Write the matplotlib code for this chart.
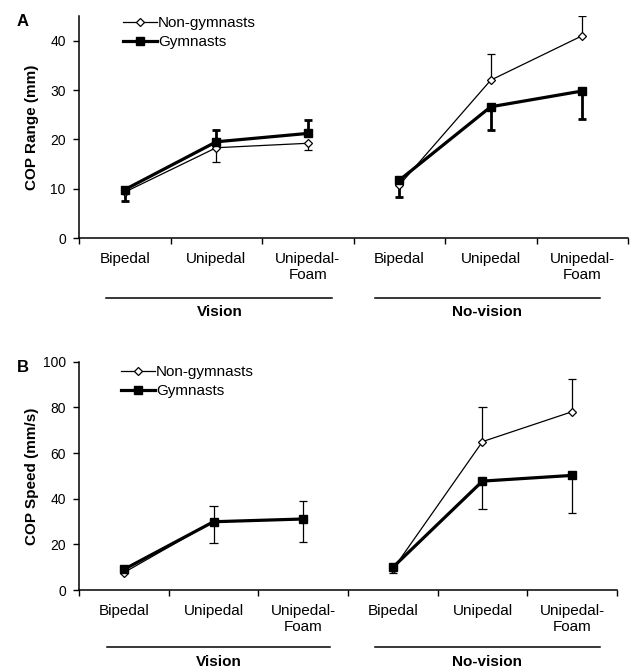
import numpy as np
import matplotlib.pyplot as plt
from matplotlib.lines import Line2D

plt.rcParams['font.family'] = ['Liberation Sans', 'DejaVu Sans']

# categories
conditions = ["Bipedal", "Unipedal", "Unipedal-\nFoam",
              "Bipedal", "Unipedal", "Unipedal-\nFoam"]
groups = ["Vision", "No-vision"]

# Panel A - COP range (mm)
range_non = [9.3, 18.3, 19.2, 10.7, 32.0, 41.0]
range_non_up = [0, 0, 0, 0, 5.2, 3.9]
range_non_lo = [0, 2.8, 1.4, 0, 0, 0]
range_gym = [9.8, 19.5, 21.2, 11.7, 26.6, 29.8]
range_gym_up = [0, 2.4, 2.8, 0, 0, 0]
range_gym_lo = [2.2, 0, 0, 3.3, 4.7, 5.7]

# Panel B - COP speed (mm/s)
speed_non = [7.6, 30.0, 31.0, 9.0, 65.0, 78.1]
speed_non_up = [0, 6.9, 8.0, 0, 15.3, 14.2]
speed_non_lo = [0, 0, 0, 0, 0, 0]
speed_gym = [9.0, 29.9, 31.1, 9.9, 47.7, 50.2]
speed_gym_up = [0, 0, 0, 0, 0, 0]
speed_gym_lo = [0, 9.5, 9.9, 2.6, 12.4, 16.6]

W, H = 631, 669
fig = plt.figure(figsize=(W / 100, H / 100), dpi=100)


def err_bars(ax, x, y, up, lo, lw, cap=0.045):
    y = np.array(y, float)
    for xi, yi, u, l in zip(x, y, up, lo):
        for e in (u, -l):
            if e != 0:
                ax.vlines(xi, yi, yi + e, color='black', lw=lw, zorder=2)
                ax.hlines(yi + e, xi - cap, xi + cap, color='black', lw=lw, zorder=2)


def panel(box, letter, ylabel, ymax, yticks, non, non_up, non_lo, gym, gym_up, gym_lo,
          gym_err_lw, spans, line_px, text_px, leg_anchor):
    l, r, t, b = box
    ax = fig.add_axes([l / W, 1 - b / H, (r - l) / W, (b - t) / H])
    h_px = b - t
    x = np.arange(len(conditions))
    non = np.array(non)
    gym = np.array(gym)

    err_bars(ax, x, non, non_up, non_lo, 0.9)
    err_bars(ax, x, gym, gym_up, gym_lo, gym_err_lw)
    # each vision condition is its own line (3 conditions per group)
    for g in range(len(groups)):
        sl = slice(3 * g, 3 * g + 3)
        ax.plot(x[sl], non[sl], color='black', lw=0.9, marker='D', ms=3.8,
                mfc='white', mec='black', mew=0.9, zorder=3)
        ax.plot(x[sl], gym[sl], color='black', lw=2.3, marker='s', ms=6,
                mfc='black', mec='black', zorder=4)

    ax.set_xlim(-0.5, len(conditions) - 0.5)
    ax.set_ylim(0, ymax)
    ax.set_yticks(yticks)
    ax.set_xticks(np.arange(len(conditions) + 1) - 0.5)
    ax.set_xticklabels([])
    ax.tick_params(axis='both', direction='out', length=4.5, width=1,
                   labelsize=10, pad=5)
    for s in ('top', 'right'):
        ax.spines[s].set_visible(False)
    for s in ('left', 'bottom'):
        ax.spines[s].set_linewidth(1.1)

    for xi, lab in zip(x, conditions):
        ax.annotate(lab, xy=(xi, 0), xycoords=('data', 'axes fraction'),
                    xytext=(0, -10), textcoords='offset points',
                    ha='center', va='top', fontsize=11, linespacing=1.15)

    tr = ax.get_xaxis_transform()
    for name, (x0, x1) in zip(groups, spans):
        ax.plot([x0, x1], [-line_px / h_px] * 2, transform=tr, color='black',
                lw=1.1, clip_on=False)
        ax.text((x0 + x1) / 2, -text_px / h_px, name, transform=tr,
                ha='center', va='center', fontsize=11, fontweight='bold')

    ax.set_ylabel(ylabel, fontsize=11, fontweight='bold')
    ax.yaxis.set_label_coords((39 - l) / (r - l), 0.5)

    handles = [Line2D([], [], color='black', lw=0.9, marker='D', ms=3.8,
                      mfc='white', mec='black', mew=0.9),
               Line2D([], [], color='black', lw=2.3, marker='s', ms=6,
                      mfc='black')]
    ax.legend(handles, ["Non-gymnasts", "Gymnasts"], loc='upper left',
              bbox_to_anchor=leg_anchor, frameon=False, fontsize=11,
              handlelength=2.2, handletextpad=0.1, borderpad=0,
              borderaxespad=0, labelspacing=0.35, numpoints=1)

    fig.text(17 / W, 1 - (t + 6) / H, letter, fontsize=12, fontweight='bold',
             ha='left', va='center')
    return ax


panel((79, 628, 16, 238), "A", "COP Range (mm)", 45, [0, 10, 20, 30, 40],
      range_non, range_non_up, range_non_lo, range_gym, range_gym_up, range_gym_lo,
      2.0, [(-0.2, 2.27), (2.73, 5.19)], 60, 74, (0.08, 1.0))

panel((79, 617, 361.7, 590), "B", "COP Speed (mm/s)", 100, [0, 20, 40, 60, 80, 100],
      speed_non, speed_non_up, speed_non_lo, speed_gym, speed_gym_up, speed_gym_lo,
      0.9, [(-0.19, 2.30), (2.80, 5.31)], 57, 72, (0.078, 0.985))

fig.savefig("out.png", dpi=100)
